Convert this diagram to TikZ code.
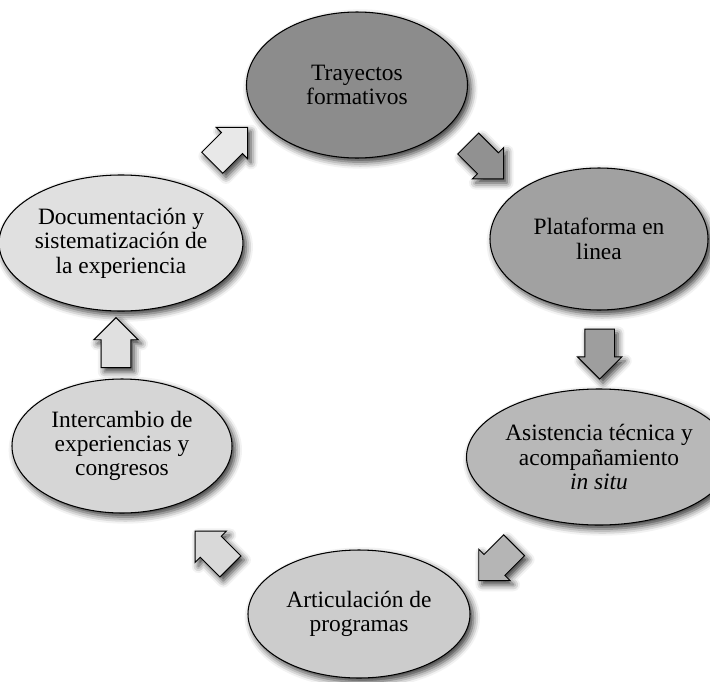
\documentclass[tikz,border=0pt]{standalone}
\usepackage{fontspec}
\setmainfont{Liberation Serif}
\usepackage{tikz}
\usetikzlibrary{shapes.geometric,shapes.arrows,shadows.blur}

\begin{document}
\begin{tikzpicture}[font=\fontsize{20}{20.8}\selectfont,
  sombra/.style={blur shadow={shadow xshift=0.1cm,shadow yshift=-0.12cm,
    shadow blur radius=0.2cm,shadow opacity=80}},
  etapa/.style={ellipse,draw=black,line width=0.9pt,inner sep=0pt,
    minimum width=6.6cm,minimum height=4.1cm,align=center,sombra},
  flecha/.style={single arrow,draw=black,line width=0.8pt,
    inner xsep=0pt,inner ysep=0.43cm,
    minimum height=1.5cm,
    single arrow head extend=0.22cm,single arrow tip angle=90,sombra},
]
\useasboundingbox (0,0) rectangle (21.3,-20.43);

% Ciclo de etapas
\node[etapa,fill=black!45,minimum width=6.63cm,minimum height=4.38cm]
  (tray) at (10.71,-2.55) {Trayectos\\formativos};
\node[etapa,fill=black!37,minimum width=6.54cm,minimum height=4.26cm]
  (plat) at (17.97,-7.17) {Plataforma en\\linea};
\node[etapa,fill=black!28,minimum width=6.54cm,minimum height=4.08cm]
  (asis) at (17.97,-13.71) {Asistencia técnica y\\acompañamiento\\\textit{in situ}};
\node[etapa,fill=black!20,minimum width=6.66cm,minimum height=3.84cm]
  (arti) at (10.77,-18.42) {Articulación de\\programas};
\node[etapa,fill=black!16,minimum width=6.6cm,minimum height=4.02cm]
  (inter) at (3.66,-13.38) {Intercambio de\\experiencias y\\congresos};
\node[etapa,fill=black!12,minimum width=6.66cm,minimum height=4.08cm]
  (docu) at (3.63,-7.29) {Documentación y\\sistematización de\\la experiencia};

% Flechas entre etapas
\node[flecha,fill=black!43,rotate=-45]  (f12) at (14.42,-4.68) {};
\node[flecha,fill=black!38,rotate=-90]  (f23) at (17.99,-10.4) {};
\node[flecha,fill=black!29,rotate=-135] (f34) at (15.05,-16.73) {};
\node[flecha,fill=black!15,rotate=135]  (f45) at (6.54,-16.62) {};
\node[flecha,fill=black!12,rotate=90]   (f56) at (3.48,-10.5) {};
\node[flecha,fill=black!9,rotate=45]    (f61) at (6.74,-4.51) {};

\end{tikzpicture}
\end{document}
